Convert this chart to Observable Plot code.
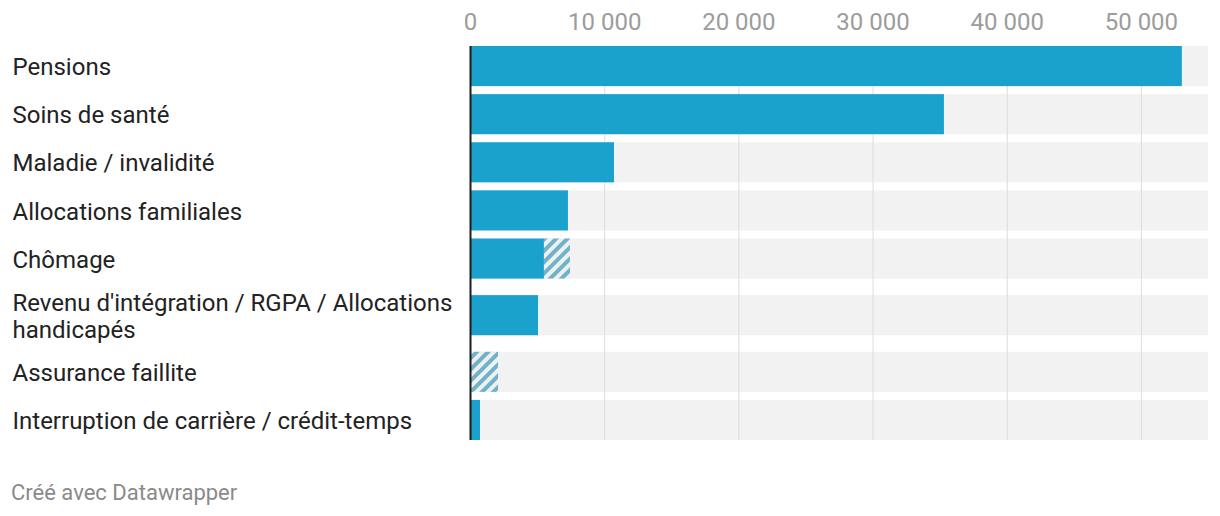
<!DOCTYPE html>
<html>
<head>
<meta charset="utf-8">
<script src="https://cdn.jsdelivr.net/npm/d3@7"></script>
<script src="https://cdn.jsdelivr.net/npm/@observablehq/plot@0.6"></script>
<style>
  html, body { margin: 0; padding: 0; background: #fff; }
  #chart svg { display: block; }
  .footer { font-family: Roboto, sans-serif; font-size: 22px; line-height: 26px; color: #8a8a8a; padding-left: 11px; padding-top: 4px; }
</style>
</head>
<body>
<div id="chart"></div>
<div class="footer">Créé avec Datawrapper</div>
<script>
const categories = [
  "Pensions",
  "Soins de santé",
  "Maladie / invalidité",
  "Allocations familiales",
  "Chômage",
  "Revenu d'intégration / RGPA / Allocations\nhandicapés",
  "Assurance faillite",
  "Interruption de carrière / crédit-temps"
];
const paidValues = [53050, 35320, 10730, 7300, 5510, 5070, 0, 745];
const hatchedValues = [0, 0, 0, 0, 1940, 0, 2090, 0];
const scaleMax = 55000;
const tickValues = [0, 10000, 20000, 30000, 40000, 50000];

// Row layout in "row units": a label with extra lines gets a taller row.
const barHalf = 20 / 48;
let cursor = 0;
const rows = categories.map((cat, i) => {
  const lines = cat.split("\n").length;
  const span = 1 + (lines - 1) * 0.354;
  const c = cursor + span / 2;
  cursor += span;
  return {cat, paid: paidValues[i], hatched: hatchedValues[i], c, y1: c - barHalf, y2: c + barHalf};
});
const yMin = rows[0].y1, yMax = rows[rows.length - 1].y2;
const fmt = d => d3.format(",")(d).replace(/,/g, " ");

const chart = Plot.plot({
  width: 1220,
  height: 476,
  marginLeft: 470,
  marginRight: 12,
  marginTop: 46,
  marginBottom: 36,
  style: {fontFamily: "Roboto, sans-serif", background: "#fff"},
  x: {domain: [0, scaleMax], axis: null},
  y: {domain: [yMin, yMax], reverse: true, axis: null},
  marks: [
    Plot.rectX(rows, {y1: "y1", y2: "y2", x1: () => 0, x2: () => scaleMax, fill: "#f2f2f2"}),
    Plot.gridX(tickValues, {stroke: "#dcdcdc", strokeOpacity: 1, strokeWidth: 1}),
    Plot.rectX(rows, {y1: "y1", y2: "y2", x1: () => 0, x2: "paid", fill: "#1aa1cc"}),
    Plot.rectX(rows.filter(d => d.hatched > 0), {y1: "y1", y2: "y2", x1: "paid", x2: d => d.paid + d.hatched, fill: "url(#hatch)"}),
    Plot.ruleX([0], {stroke: "#1d1d1d", strokeWidth: 2}),
    Plot.axisX(tickValues, {anchor: "top", tickSize: 0, tickPadding: 17, fontSize: 24, color: "#9c9c9c", tickFormat: fmt, label: null}),
    Plot.text(rows, {y: "c", text: "cat", frameAnchor: "left", dx: -458, textAnchor: "start", fontSize: 24, fill: "#222", lineHeight: 1.12})
  ]
});

const svg = d3.select(chart);
const defs = svg.insert("defs", ":first-child");
const pat = defs.append("pattern")
  .attr("id", "hatch")
  .attr("patternUnits", "userSpaceOnUse")
  .attr("width", 8)
  .attr("height", 8)
  .attr("patternTransform", "rotate(45)");
pat.append("rect").attr("width", 8).attr("height", 8).attr("fill", "#eef1f2");
pat.append("rect").attr("width", 4).attr("height", 8).attr("fill", "#72b2c8");

document.getElementById("chart").appendChild(chart);
</script>
</body>
</html>
